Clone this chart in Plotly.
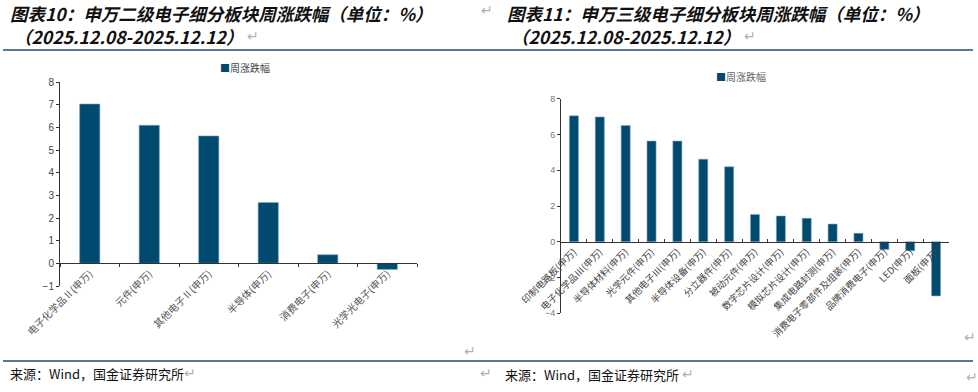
import plotly.graph_objects as go

W, H = 978, 392

# ---------------- data ----------------
cats_left = ["电子化学品Ⅱ(申万)", "元件(申万)", "其他电子Ⅱ(申万)", "半导体(申万)", "消费电子(申万)", "光学光电子(申万)"]
vals_left = [7.03, 6.09, 5.62, 2.68, 0.38, -0.27]

cats_right = ["印制电路板(申万)", "电子化学品Ⅲ(申万)", "半导体材料(申万)", "光学元件(申万)", "其他电子Ⅲ(申万)",
              "半导体设备(申万)", "分立器件(申万)", "被动元件(申万)", "数字芯片设计(申万)", "模拟芯片设计(申万)",
              "集成电路封测(申万)", "消费电子零部件及组装(申万)", "品牌消费电子(申万)", "LED(申万)", "面板(申万)"]
vals_right = [7.04, 6.98, 6.50, 5.63, 5.63, 4.62, 4.19, 1.53, 1.44, 1.31, 0.99, 0.47, -0.43, -0.50, -3.03]

series_name = "周涨跌幅"
title_left = ["图表10：申万二级电子细分板块周涨跌幅（单位：%）", "（2025.12.08-2025.12.12）"]
title_right = ["图表11：申万三级电子细分板块周涨跌幅（单位：%）", "（2025.12.08-2025.12.12）"]
source_text = "来源：Wind，国金证券研究所"

BAR = "#004a6f"
LINE = "#1f4e79"
CJK = "Noto Sans CJK SC"

def px(x):
    return x / W

def py(y):
    return 1 - y / H

fig = go.Figure()
fig.add_trace(go.Bar(x=cats_left, y=vals_left, name=series_name, marker=dict(color=BAR, line=dict(color="#7fa6bd", width=0.6)),
                     width=0.34, xaxis="x", yaxis="y", showlegend=False))
fig.add_trace(go.Bar(x=cats_right, y=vals_right, name=series_name, marker=dict(color=BAR, line=dict(color="#7fa6bd", width=0.6)),
                     width=0.35, xaxis="x2", yaxis="y2", showlegend=False))

axis_common = dict(showgrid=False, zeroline=False, showline=True, linecolor="#333", linewidth=1)

fig.update_layout(
    width=W, height=H, margin=dict(l=0, r=0, t=0, b=0, autoexpand=False),
    paper_bgcolor="white", plot_bgcolor="white",
    xaxis=dict(domain=[px(60), px(417)], anchor="free", position=py(263), type="category",
               tickangle=-45, tickson="boundaries", ticks="outside", ticklen=3, tickcolor="#333",
               tickfont=dict(family=CJK, size=10, color="#555"), **axis_common),
    yaxis=dict(domain=[py(286), py(82)], range=[-1, 8], dtick=1, anchor="x", ticks="outside", ticklen=3,
               tickcolor="#333", tickfont=dict(family="Arial", size=10, color="#444"), **axis_common),
    xaxis2=dict(domain=[px(561), px(949)], anchor="free", position=py(241.7), type="category",
                tickangle=-45, tickson="boundaries", ticks="inside", ticklen=3, tickcolor="#333",
                tickfont=dict(family=CJK, size=9.5, color="#444"), **axis_common),
    yaxis2=dict(domain=[py(313.3), py(98.7)], range=[-4, 8], dtick=2, anchor="x2", ticks="outside", ticklen=3,
                tickcolor="#333", tickfont=dict(family="Arial", size=9, color="#777"), **axis_common),
)

ann = []
title_font = dict(family=CJK, size=17.5, color="#111", weight="bold", style="italic")
ann.append(dict(x=px(8), y=py(13), text=title_left[0], font=title_font))
ann.append(dict(x=px(12), y=py(36), text=title_left[1], font=title_font))
ann.append(dict(x=px(505), y=py(13), text=title_right[0], font=title_font))
ann.append(dict(x=px(509), y=py(36), text=title_right[1], font=title_font))

src_font = dict(family=CJK, size=13, color="#111")
ann.append(dict(x=px(8), y=py(373), text=source_text, font=src_font))
ann.append(dict(x=px(503), y=py(374), text=source_text, font=src_font))

leg = f'<span style="color:{BAR}">■</span>{series_name}'
ann.append(dict(x=px(218), y=py(67), text=leg, font=dict(family=CJK, size=10, color="#444")))
ann.append(dict(x=px(714), y=py(77), text=leg, font=dict(family=CJK, size=10, color="#666")))

mark_font = dict(family="DejaVu Sans", size=14, color="#b0b0b0")
for (mx, my) in [(479, 10), (245, 36), (742, 36), (462, 351), (182, 373), (478, 373), (962, 337), (680, 374), (964, 377)]:
    ann.append(dict(x=px(mx), y=py(my), text="↵", font=mark_font))

for a in ann:
    a.update(xref="paper", yref="paper", xanchor="left", yanchor="middle", showarrow=False)
fig.update_layout(annotations=ann)

shapes = []
for (x0, x1, y) in [(3, 490, 50), (490, 973, 50), (3, 490, 361), (490, 973, 361)]:
    shapes.append(dict(type="line", xref="paper", yref="paper", x0=px(x0), x1=px(x1), y0=py(y), y1=py(y),
                       line=dict(color=LINE, width=1.5)))
fig.update_layout(shapes=shapes)

# remove the browser's default 8px body margin so the figure sits at the page's top-left corner
fig.write_html("out.html", config={"displayModeBar": False},
               post_script="document.body.style.margin='0px';")
